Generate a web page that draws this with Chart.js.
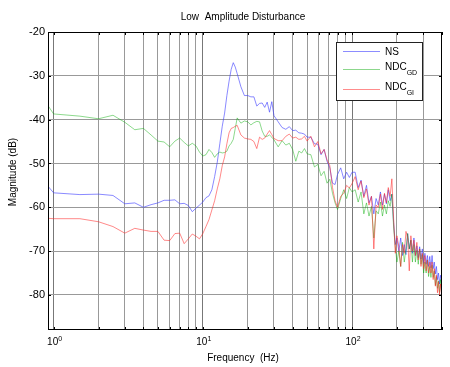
<!DOCTYPE html>
<html>
<head>
<meta charset="utf-8">
<script src="https://cdn.jsdelivr.net/npm/chart.js@4.4.0/dist/chart.umd.min.js"></script>
<style>
    html, body { margin: 0; padding: 0; background: #fff; }
    #chart { display: block; }
</style>
</head>
<body>
<canvas id="chart" width="450" height="367"></canvas>
<script>
// frequency grid (Hz), shared by the three curves
const freqHz = [0.5, 1, 1.5, 2, 2.5, 3, 3.5, 4, 4.5, 5, 5.5, 6, 6.5, 7, 7.5, 8, 8.5, 9, 9.5, 10,
    10.5, 11, 11.5, 12, 12.5, 13, 13.5, 14, 14.5, 15, 15.5, 16, 16.5, 17,
    18, 19, 20, 21, 22, 23, 24, 25, 26, 27, 28, 29, 30,
    32, 34, 36, 38, 40, 42, 44, 46, 48, 50,
    53, 56, 59, 62, 65, 68, 71, 74, 77, 80,
    84, 88, 92, 96, 100,
    105, 110, 115, 120, 125, 130, 135, 140, 145, 150, 155, 160, 165, 170, 175, 180, 185, 190, 195, 200,
    206, 212, 218, 224, 230, 236, 242, 248, 254, 260, 266, 272, 278, 284, 290, 296, 302, 308, 314, 320,
    326, 332, 338, 344, 350, 356, 362, 368, 374, 380, 386, 392, 398, 404];

const nsDb = [-44.7, -56.7, -57.1, -57.0, -57.3, -59.2, -59.0, -60.0, -59.4, -59.0,
    -58.4, -58.4, -58.3, -59.2, -59.1, -59.6, -61.0, -60.2, -59.5, -58.8,
    -57.8, -57.4, -56.0, -53.0, -49.7, -45.5, -41.5, -38.5, -34.5, -31.2,
    -28.5, -27.0, -28.0, -29.5,
    -32.5, -34.5, -34.5, -34.8, -34.8, -36.9, -36.3, -36.2, -37.2, -36.0, -38.3, -35.9, -39.1,
    -40.5, -41.8, -42.2, -41.6, -42.5, -42.4, -43.0, -43.1, -43.3, -44.0,
    -44.0, -45.5, -45.6, -48.0, -46.8, -49.5, -51.0, -54.5, -54.8, -52.5,
    -51.0, -53.5, -52.0, -53.2, -52.0,
    -52.0, -55.5, -53.8, -57.5, -55.0, -59.0, -57.5, -61.5, -58.0, -59.5,
    -56.5, -59.5, -57.0, -59.2, -56.0, -58.5, -57.0, -63.5, -68.5, -67.0,
    -70.0, -67.0, -71.0, -68.5, -70.8, -66.0, -69.5, -67.5, -70.5, -67.0,
    -71.0, -68.8, -71.5, -69.0, -71.8, -69.5, -72.8, -70.5, -73.0, -71.0,
    -73.5, -71.2, -73.8, -71.0, -74.0, -72.5, -75.2, -73.5, -76.5, -75.0,
    -77.5, -75.5, -77.0, -76.0];

const ndcGdDb = [-23.5, -38.7, -39.2, -39.8, -39.0, -40.6, -42.3, -42.0, -43.5, -44.9,
    -45.1, -46.2, -44.9, -44.2, -45.2, -46.0, -45.4, -46.0, -47.4, -48.3,
    -48.0, -46.8, -47.5, -48.6, -47.8, -47.4, -47.6, -47.5, -47.2, -46.0,
    -45.4, -44.5, -42.0, -39.6,
    -40.8, -40.3, -40.5, -41.2, -40.7, -40.4, -40.5, -42.6, -43.8, -43.8, -43.5, -44.0, -44.6,
    -46.2, -44.8, -45.8, -45.4, -46.8, -49.5, -47.2, -47.6, -46.6, -47.8,
    -48.0, -50.8, -50.2, -52.8, -51.8, -54.5, -53.6, -56.8, -59.0, -60.5,
    -58.0, -56.0, -58.0, -55.5, -56.5,
    -56.0, -58.8, -56.5, -61.5, -59.0, -62.0, -59.8, -67.0, -60.8, -61.5,
    -58.8, -62.0, -59.5, -61.5, -58.5, -59.8, -57.0, -64.5, -69.0, -72.5,
    -70.0, -73.5, -68.0, -72.5, -69.5, -66.0, -69.5, -67.5, -72.5, -68.5,
    -72.5, -69.8, -73.0, -69.5, -73.0, -70.8, -75.0, -72.5, -75.0, -72.0,
    -75.8, -73.5, -76.0, -73.2, -76.0, -74.5, -77.8, -75.8, -78.5, -76.8,
    -79.5, -76.5, -79.0, -77.5];

const ndcGiDb = [-61.9, -62.6, -62.6, -63.3, -64.4, -65.9, -64.8, -65.2, -65.5, -65.5,
    -67.5, -67.6, -66.0, -65.9, -68.3, -67.2, -66.1, -66.6, -67.2, -66.0,
    -64.4, -62.8, -60.6, -58.5, -55.8, -53.5, -50.5, -48.5, -45.5, -43.0,
    -42.0, -41.8, -41.5, -41.3,
    -43.5, -44.2, -44.4, -44.5, -45.0, -46.6, -44.0, -44.5, -44.2, -43.3, -42.5, -43.4, -44.3,
    -44.8, -44.8, -43.8, -43.3, -44.2, -44.0, -44.5, -44.4, -43.8, -44.9,
    -43.8, -46.2, -45.0, -47.8, -46.8, -49.2, -50.5, -55.5, -58.5, -60.0,
    -57.5, -56.8, -55.0, -55.6, -54.6,
    -53.0, -56.0, -54.0, -57.8, -55.8, -59.5, -57.5, -69.5, -59.5, -60.0,
    -57.0, -60.5, -56.8, -59.0, -55.5, -57.5, -53.5, -62.5, -70.5, -66.5,
    -69.0, -73.5, -68.5, -70.5, -65.5, -67.0, -74.5, -66.5, -70.0, -67.5,
    -71.0, -68.0, -72.0, -69.5, -73.5, -70.5, -74.0, -71.0, -74.5, -72.0,
    -75.0, -72.5, -75.0, -72.5, -76.5, -74.0, -78.0, -75.5, -79.5, -77.0,
    -80.0, -77.5, -79.5, -78.0];

const xGridValues = [1, 2, 3, 4, 5, 6, 7, 8, 9, 10, 20, 30, 40, 50, 60, 70, 80, 90, 100, 200, 300, 400];
const xDecades = [1, 10, 100];
const xDecadeExp = ['0', '1', '2'];
const yTickValues = [-80, -70, -60, -50, -40, -30, -20];

const FONT = '"Liberation Sans", Arial, sans-serif';
const NS_COLOR = 'rgba(60,60,255,0.6)';
const GD_COLOR = 'rgba(0,170,0,0.45)';
const GI_COLOR = 'rgba(255,40,40,0.55)';

function toPoints(ys) {
    return freqHz.map((f, i) => ({ x: f, y: ys[i] }));
}

const matlabLook = {
    id: 'matlabLook',
    afterDraw(chart) {
        const ctx = chart.ctx;
        const area = chart.chartArea;
        const xs = chart.scales.x;
        const ys = chart.scales.y;
        ctx.save();

        // axes box
        ctx.strokeStyle = '#000';
        ctx.lineWidth = 1;
        ctx.strokeRect(Math.round(area.left) + 0.5, Math.round(area.top) + 0.5,
            Math.round(area.right - area.left) - 1, Math.round(area.bottom - area.top) - 1);

        // inward tick marks
        ctx.beginPath();
        xGridValues.forEach(v => {
            const px = Math.round(xs.getPixelForValue(v)) + 0.5;
            ctx.moveTo(px, area.top); ctx.lineTo(px, area.top + 3);
            ctx.moveTo(px, area.bottom); ctx.lineTo(px, area.bottom - 3);
        });
        yTickValues.forEach(v => {
            const py = Math.round(ys.getPixelForValue(v)) + 0.5;
            ctx.moveTo(area.left, py); ctx.lineTo(area.left + 3, py);
            ctx.moveTo(area.right, py); ctx.lineTo(area.right - 3, py);
        });
        ctx.stroke();

        ctx.fillStyle = '#000';

        // x tick labels 10^n
        xDecades.forEach((v, i) => {
            const px = xs.getPixelForValue(v);
            ctx.font = '10px ' + FONT;
            const wBase = ctx.measureText('10').width;
            ctx.font = '7px ' + FONT;
            const wExp = ctx.measureText(xDecadeExp[i]).width;
            const start = px - (wBase + wExp) / 2 + 1;
            ctx.textAlign = 'left';
            ctx.textBaseline = 'alphabetic';
            ctx.font = '10px ' + FONT;
            ctx.fillText('10', start, 345);
            ctx.font = '7px ' + FONT;
            ctx.fillText(xDecadeExp[i], start + wBase, 341);
        });

        // title and axis titles
        const cx = (area.left + area.right) / 2;
        ctx.textAlign = 'center';
        ctx.font = '10px ' + FONT;
        ctx.fillText('Low  Amplitude Disturbance', cx - 2, 20);
        ctx.fillText('Frequency  (Hz)', cx - 2, 361);
        ctx.save();
        ctx.translate(16, 172);
        ctx.rotate(-Math.PI / 2);
        ctx.fillText('Magnitude (dB)', 0, 0);
        ctx.restore();

        // legend
        const lx = 336.5, ly = 42.5, lw = 86, lh = 58;
        ctx.fillStyle = '#fff';
        ctx.fillRect(lx, ly, lw, lh);
        ctx.strokeStyle = '#222';
        ctx.strokeRect(lx, ly, lw, lh);
        const entries = [
            { base: 'NS', sub: '', color: 'rgb(140,140,255)', y: 51.5 },
            { base: 'NDC', sub: 'GD', color: 'rgb(140,215,140)', y: 69.5 },
            { base: 'NDC', sub: 'GI', color: 'rgb(255,140,140)', y: 89.5 }
        ];
        entries.forEach(e => {
            ctx.strokeStyle = e.color;
            ctx.beginPath();
            ctx.moveTo(343, e.y); ctx.lineTo(380, e.y);
            ctx.stroke();
            ctx.fillStyle = '#000';
            ctx.textAlign = 'left';
            ctx.font = '10px ' + FONT;
            const tx = 385;
            ctx.fillText(e.base, tx, e.y + 3 - (e.sub ? 3 : 0));
            if (e.sub) {
                const w = ctx.measureText(e.base).width;
                ctx.font = '7px ' + FONT;
                ctx.fillText(e.sub, tx + w, e.y + 5);
            }
        });

        ctx.restore();
    }
};

new Chart(document.getElementById('chart'), {
    type: 'line',
    data: {
        datasets: [
            { label: 'NS', data: toPoints(nsDb), borderColor: NS_COLOR, order: 3 },
            { label: 'NDC GD', data: toPoints(ndcGdDb), borderColor: GD_COLOR, order: 2 },
            { label: 'NDC GI', data: toPoints(ndcGiDb), borderColor: GI_COLOR, order: 1 }
        ]
    },
    options: {
        responsive: false,
        devicePixelRatio: 1,
        animation: false,
        layout: { padding: { left: 0, top: 32, right: 8, bottom: 0 } },
        elements: {
            line: { borderWidth: 1, tension: 0, fill: false },
            point: { radius: 0, hoverRadius: 0 }
        },
        plugins: {
            legend: { display: false },
            title: { display: false },
            tooltip: { enabled: false }
        },
        scales: {
            x: {
                type: 'logarithmic',
                min: 0.917,
                max: 401,
                afterBuildTicks: scale => { scale.ticks = xGridValues.map(v => ({ value: v })); },
                afterFit: scale => { scale.height = 37; },
                ticks: { display: false },
                grid: {
                    drawTicks: false,
                    color: ctx => (xDecades.includes(ctx.tick && ctx.tick.value) ? '#777' : '#999')
                },
                border: { display: false }
            },
            y: {
                min: -88,
                max: -20,
                afterBuildTicks: scale => { scale.ticks = yTickValues.map(v => ({ value: v })); },
                afterFit: scale => { scale.width = 48; },
                ticks: {
                    color: '#000',
                    padding: 3,
                    font: { family: FONT, size: 11 }
                },
                grid: { drawTicks: false, color: '#999' },
                border: { display: false }
            }
        }
    },
    plugins: [matlabLook]
});
</script>
</body>
</html>
